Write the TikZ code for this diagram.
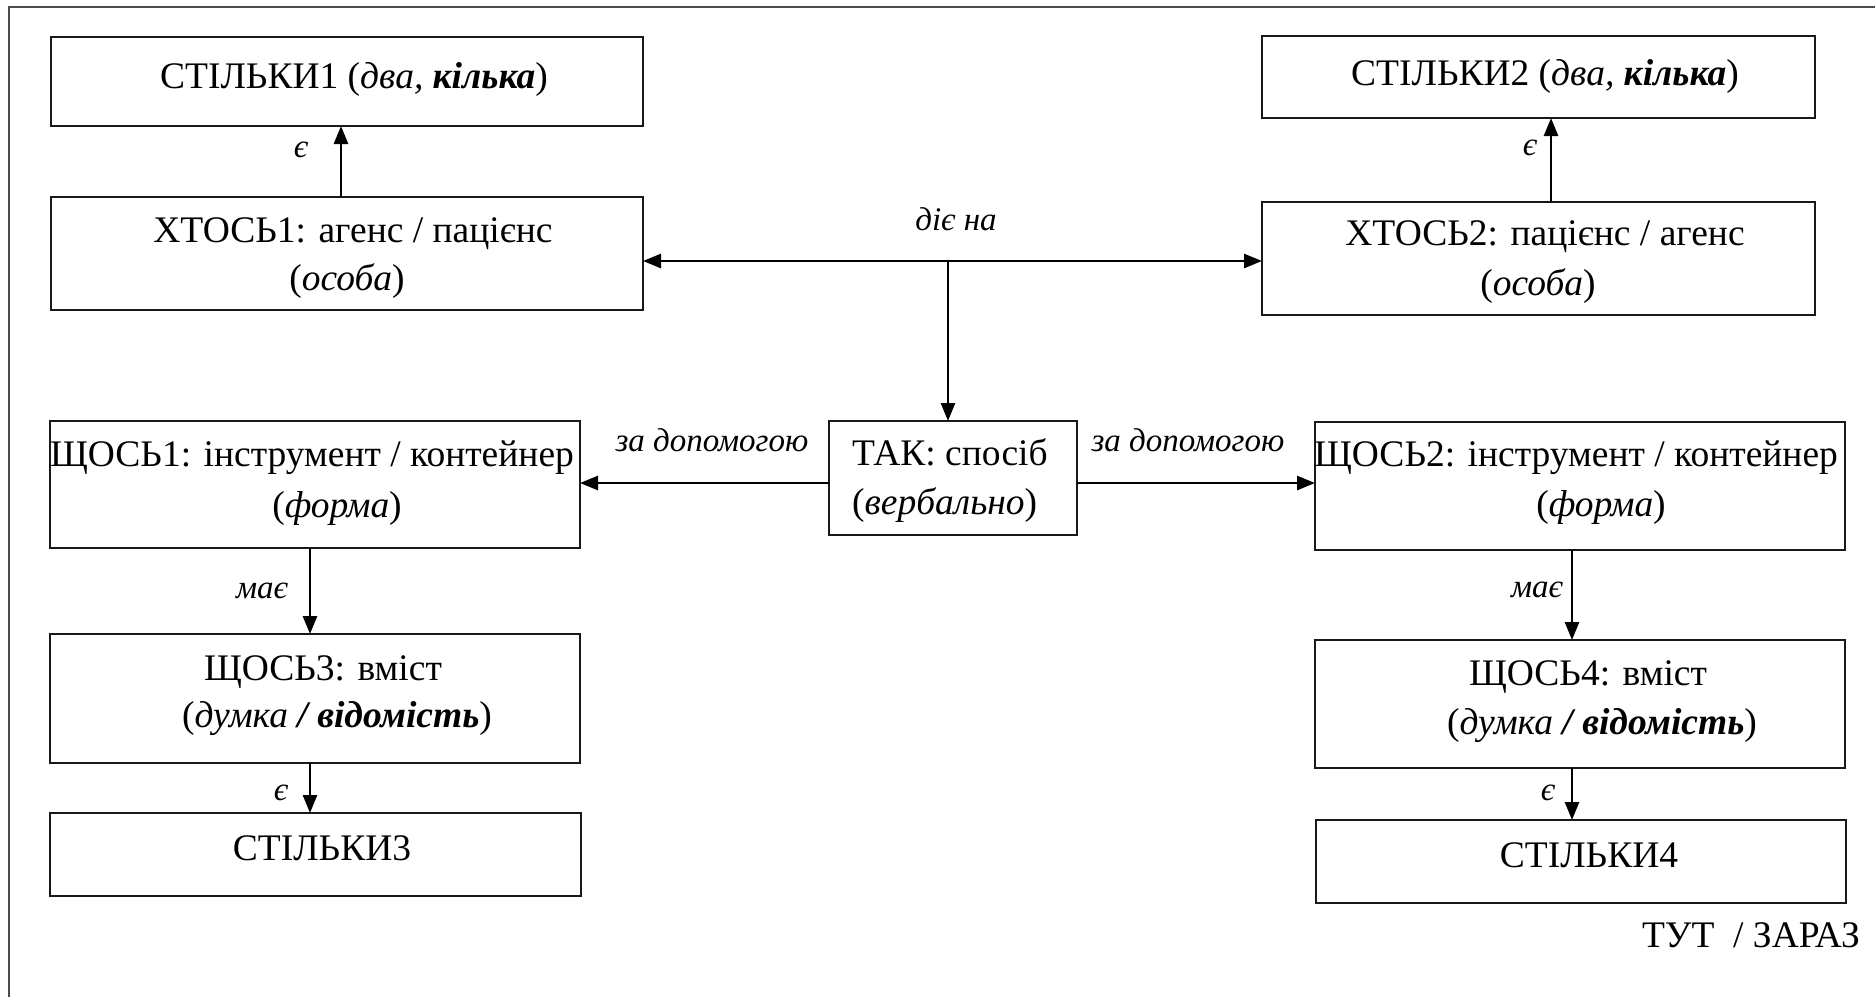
\documentclass[tikz,border=0pt]{standalone}
\usepackage{fontspec}
\setmainfont{Liberation Serif}
\usetikzlibrary{arrows.meta}

\newcommand\mainsz{\fontsize{37.5pt}{50pt}\selectfont}
\newcommand\lblsz{\fontsize{33pt}{40pt}\selectfont}

\tikzset{
  box/.style={draw=black!90, line width=2.5pt, inner sep=0pt, outer sep=0pt},
  txt/.style={font=\mainsz, anchor=base, inner sep=0pt},
  lbl/.style={font=\lblsz\itshape, anchor=base, inner sep=0pt},
  conn/.style={line width=2.7pt, -{Triangle[length=18pt,width=14pt]}},
  bothconn/.style={line width=2.7pt, {Triangle[length=18pt,width=14pt]}-{Triangle[length=18pt,width=14pt]}},
  frame/.style={draw=black!70, line width=2pt},
}

\begin{document}
\begin{tikzpicture}[x=1pt, y=-1pt]
  \useasboundingbox (0,0) rectangle (1875,997);

  % outer frame (top and left sides only)
  \draw[frame] (9,997) -- (9,7) -- (1875,7);

  % boxes
  \node[box, minimum width=592pt, minimum height=89pt]  (s1)  at (347,81.5)   {};
  \node[box, minimum width=592pt, minimum height=113pt] (x1)  at (347,253.5)  {};
  \node[box, minimum width=553pt, minimum height=82pt]  (s2)  at (1538.5,77)  {};
  \node[box, minimum width=553pt, minimum height=113pt] (x2)  at (1538.5,258.5) {};
  \node[box, minimum width=248pt, minimum height=114pt] (tak) at (953,478)    {};
  \node[box, minimum width=530pt, minimum height=127pt] (q1)  at (315,484.5)  {};
  \node[box, minimum width=530pt, minimum height=129pt] (q3)  at (315,698.5)  {};
  \node[box, minimum width=531pt, minimum height=83pt]  (s3)  at (315.5,854.5) {};
  \node[box, minimum width=530pt, minimum height=128pt] (q2)  at (1580,486)   {};
  \node[box, minimum width=530pt, minimum height=128pt] (q4)  at (1580,704)   {};
  \node[box, minimum width=530pt, minimum height=83pt]  (s4)  at (1581,861.5) {};

  % box texts
  \node[txt] (s1t)  at (354,88)   {СТІЛЬКИ1 (\textit{два,} \textbf{\textit{кілька}})};
  \node[txt] (x1a)  at (353,242)  {ХТОСЬ1: агенс / пацієнс};
  \node[txt] (x1b)  at (347,290)  {(\textit{особа})};
  \node[txt] (s2t)  at (1545,85)  {СТІЛЬКИ2 (\textit{два,} \textbf{\textit{кілька}})};
  \node[txt] (x2a)  at (1545,245) {ХТОСЬ2: пацієнс / агенс};
  \node[txt] (x2b)  at (1538,295) {(\textit{особа})};
  \node[txt, anchor=base west] (taka) at (852,465) {ТАК: спосіб};
  \node[txt, anchor=base west] (takb) at (852,514) {(\textit{вербально})};
  \node[txt] (q1a)  at (312,466)  {ЩОСЬ1: інструмент / контейнер};
  \node[txt] (q1b)  at (337,517)  {(\textit{форма})};
  \node[txt] (q3a)  at (323,680)  {ЩОСЬ3: вміст};
  \node[txt] (q3b)  at (337,727)  {(\textit{думка} \textbf{\textit{/ відомість}})};
  \node[txt] (s3t)  at (322,860)  {СТІЛЬКИ3};
  \node[txt] (q2a)  at (1576,466) {ЩОСЬ2: інструмент / контейнер};
  \node[txt] (q2b)  at (1601,516) {(\textit{форма})};
  \node[txt] (q4a)  at (1588,685) {ЩОСЬ4: вміст};
  \node[txt] (q4b)  at (1602,734) {(\textit{думка} \textbf{\textit{/ відомість}})};
  \node[txt] (s4t)  at (1589,867) {СТІЛЬКИ4};
  \node[txt, anchor=base east] (place) at (1860,947) {ТУТ\ \ / ЗАРАЗ};

  % connectors
  \coordinate (j) at (948,261);
  \coordinate (h) at (953,483);
  \draw[conn] ([xshift=-6pt]x1.north) -- ([xshift=-6pt]x1.north |- s1.south);
  \draw[conn] ([xshift=12.5pt]x2.north) -- ([xshift=12.5pt]x2.north |- s2.south);
  \draw[bothconn] (x1.east |- j) -- (x2.west |- j);
  \draw[conn] (j) -- (j |- tak.north);
  \draw[conn] (tak.west |- h) -- (q1.east |- h);
  \draw[conn] (tak.east |- h) -- (q2.west |- h);
  \draw[conn] ([xshift=-5pt]q1.south) -- ([xshift=-5pt]q1.south |- q3.north);
  \draw[conn] ([xshift=-5pt]q3.south) -- ([xshift=-5pt]q3.south |- s3.north);
  \draw[conn] ([xshift=-8pt]q2.south) -- ([xshift=-8pt]q2.south |- q4.north);
  \draw[conn] ([xshift=-8pt]q4.south) -- ([xshift=-8pt]q4.south |- s4.north);

  % connector labels
  \node[lbl] (l1) at (301,157)  {є};
  \node[lbl] (l2) at (1530,155) {є};
  \node[lbl] (l3) at (956,230)  {діє на};
  \node[lbl] (l4) at (712,451)  {за допомогою};
  \node[lbl] (l5) at (1188,451) {за допомогою};
  \node[lbl] (l6) at (262,598)  {має};
  \node[lbl] (l7) at (281,800)  {є};
  \node[lbl] (l8) at (1537,597) {має};
  \node[lbl] (l9) at (1548,800) {є};
\end{tikzpicture}
\end{document}
